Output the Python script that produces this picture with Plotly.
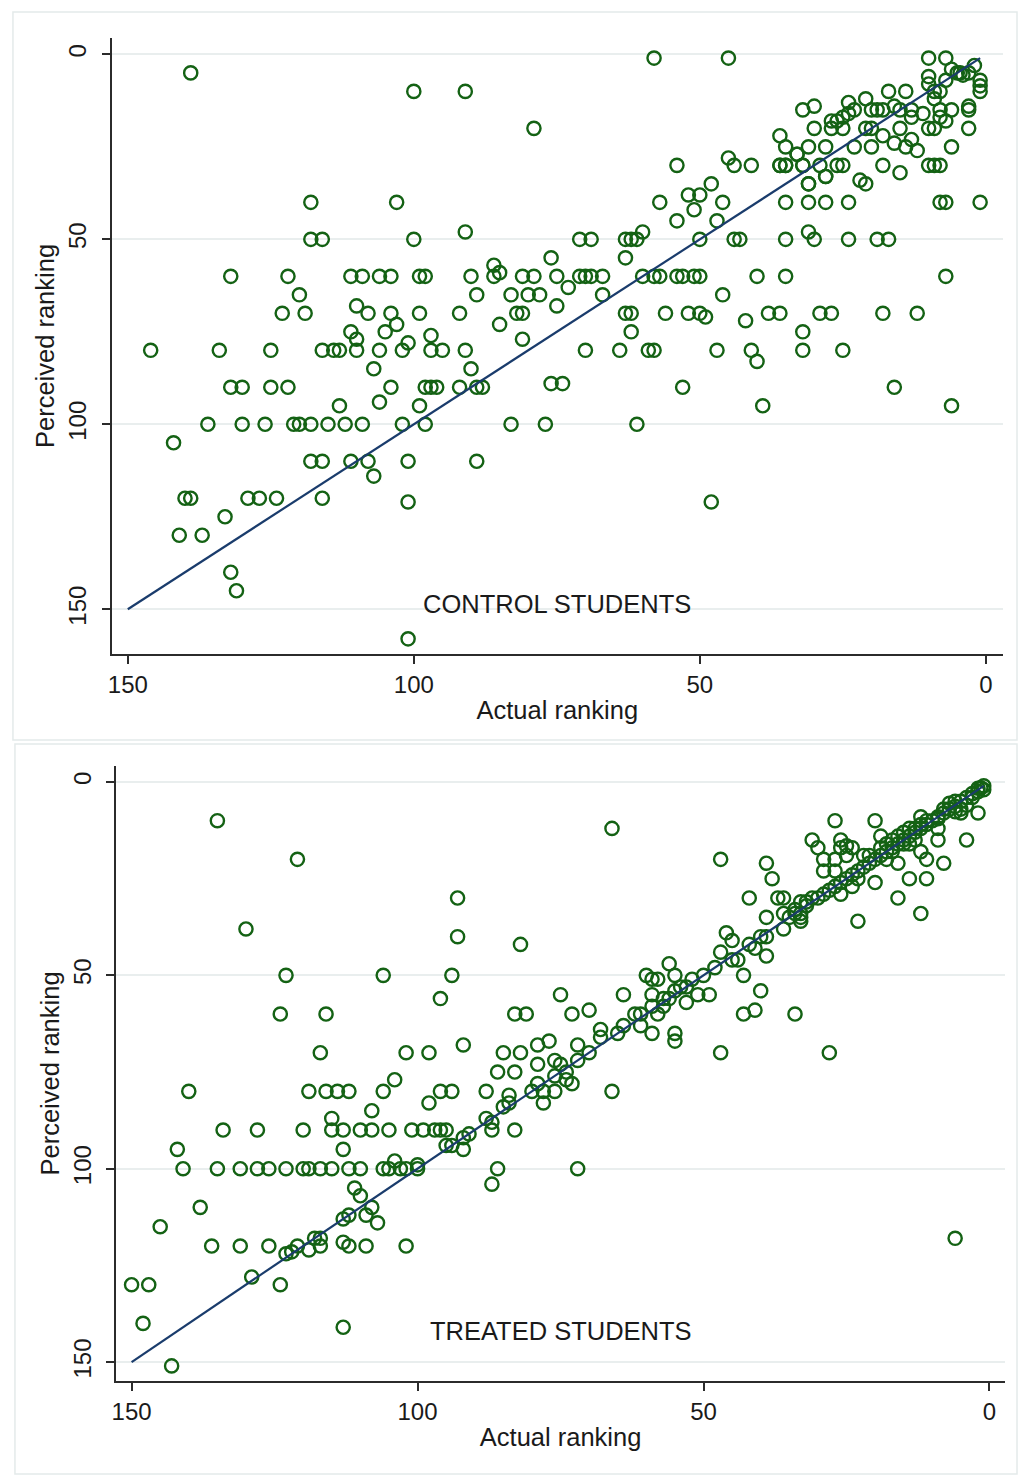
import plotly.graph_objects as go

# ---------------- data ----------------
# Control students: actual vs. perceived class ranking
control_actual = [
    139, 100, 91, 79, 118, 103, 118, 116, 100, 91, 76,
    132, 122, 111, 109, 106, 104, 99, 98, 90, 86, 81, 79, 75, 86, 85,
    120, 89, 83, 80, 78, 110, 75,
    123, 119, 108, 104, 99, 92, 82, 81,
    103, 85, 97, 111, 110, 105, 81, 101,
    146, 134, 125, 116, 114, 113, 110, 106, 102, 97, 95, 91,
    107, 90,
    132, 130, 125, 122, 104, 98, 97, 96, 92, 89, 88, 76, 74,
    113, 106, 99,
    136, 130, 126, 121, 120, 118, 115, 112, 109, 102, 98, 83, 77,
    142,
    118, 116, 111, 108, 101, 89,
    107,
    140, 139, 129, 127, 124, 116,
    101, 133, 141, 137, 132, 131, 101,
    73, 71, 70, 69, 67, 67, 71, 69, 63, 62, 61, 60, 63,
    60, 58, 57, 54, 53, 51, 50, 40, 35, 7,
    63, 62, 62, 56, 52, 50, 49, 46, 42, 38, 36, 32, 29, 27, 18, 12,
    70, 64, 59, 58, 47, 41, 32, 25,
    40, 53, 39, 16, 6, 61, 48,
    58, 45, 54, 45, 44, 41, 36, 35, 36, 35, 33, 32, 48, 52, 50, 51, 57, 46,
    47, 54, 35, 31, 28, 24, 31, 28, 35, 31, 30, 24, 19, 17, 44, 43, 50,
    10, 7, 6, 4, 3, 4.5, 2, 5, 1, 1, 1, 10, 10, 9, 8, 7, 9, 17, 14, 21, 24,
    20, 19, 18, 16, 15, 13, 11, 8, 6, 3, 3, 23, 32, 30,
    26, 25, 24, 27,
    25, 27, 21, 20, 15, 10, 9, 3, 30,
    13, 8, 7,
    31, 28, 23, 20, 14, 6, 18, 16, 13, 12, 33,
    32, 29, 26, 25, 36, 35, 18, 10, 9, 8, 15, 28, 31, 22, 21,
    8, 7, 1,
]
control_perceived = [
    5, 10, 10, 20, 40, 40, 50, 50, 50, 48, 55,
    60, 60, 60, 60, 60, 60, 60, 60, 60, 60, 60, 60, 60, 57, 59,
    65, 65, 65, 65, 65, 68, 68,
    70, 70, 70, 70, 70, 70, 70, 70,
    73, 73, 76, 75, 77, 75, 77, 78,
    80, 80, 80, 80, 80, 80, 80, 80, 80, 80, 80, 80,
    85, 85,
    90, 90, 90, 90, 90, 90, 90, 90, 90, 90, 90, 89, 89,
    95, 94, 95,
    100, 100, 100, 100, 100, 100, 100, 100, 100, 100, 100, 100, 100,
    105,
    110, 110, 110, 110, 110, 110,
    114,
    120, 120, 120, 120, 120, 120,
    121, 125, 130, 130, 140, 145, 158,
    63, 60, 60, 60, 60, 65, 50, 50, 50, 50, 50, 48, 55,
    60, 60, 60, 60, 60, 60, 60, 60, 60, 60,
    70, 70, 75, 70, 70, 70, 71, 65, 72, 70, 70, 75, 70, 70, 70, 70,
    80, 80, 80, 80, 80, 80, 80, 80,
    83, 90, 95, 90, 95, 100, 121,
    1, 1, 30, 28, 30, 30, 22, 25, 30, 30, 27, 30, 35, 38, 38, 42, 40, 40,
    45, 45, 40, 40, 40, 40, 35, 33, 50, 48, 50, 50, 50, 50, 50, 50, 50,
    1, 1, 4, 5.6, 5, 5, 3, 5, 7, 8.5, 10, 6, 8, 10, 10, 7, 12, 10, 10, 12, 13,
    15, 15, 15, 14, 15, 15, 16, 15, 15, 14, 15, 15, 15, 14,
    18, 17, 16, 18,
    20, 20, 20, 20, 20, 20, 20, 20, 20,
    17, 17, 18,
    25, 25, 25, 25, 25, 25, 22, 24, 23, 26, 27,
    30, 30, 30, 30, 30, 30, 30, 30, 30, 30, 32, 33, 35, 34, 35,
    40, 40, 40,
]

# Treated students: actual vs. perceived class ranking
treated_actual = [
    135, 121, 130, 93, 93, 82, 66, 47,
    123, 106, 94, 96, 75,
    124, 116, 83, 81,
    117, 102, 98, 85, 82, 92, 79, 77,
    79, 76, 86, 83, 104,
    140, 119, 116, 114, 112, 106, 96, 94, 88, 80, 78, 76, 66,
    98, 79, 78, 84, 85, 84, 74, 73,
    108, 115,
    134, 128, 120, 115, 113, 110, 108, 105, 101, 99, 97, 96, 95, 87, 83,
    88, 87,
    113, 142, 95, 94, 92, 92, 91,
    141, 135, 131, 128, 126, 123, 120, 119, 117, 115, 112, 110, 106, 105,
    103, 102, 100, 86, 72,
    104, 100, 87,
    138, 145, 111, 110, 108, 109, 107, 113, 112,
    118, 117, 119, 121, 122, 123, 117, 113, 112, 109, 102, 136, 131, 126,
    150, 147, 129, 124, 148, 113, 143,
    6,
    73, 70, 76, 74, 75, 72, 70, 72, 68, 68, 64, 65, 62, 61, 61, 59, 59, 58,
    57, 57, 56, 55, 54, 53, 53, 52, 51, 49, 50, 60, 59, 58, 56, 55, 48,
    47, 46, 45, 45, 44, 43, 47, 43, 41, 40, 55, 55, 64, 59,
    42, 41, 40, 39, 39, 39, 42, 39, 38, 37, 36, 36, 36, 34, 28,
    33, 32, 33, 34, 33, 33,
    27, 20, 31, 30, 29, 27, 29, 27, 26, 25, 24, 26, 25, 22, 19, 12, 9,
    2, 4, 9, 9, 8, 12, 11, 16, 14, 11, 16, 12, 23, 20,
    35, 34, 32, 31, 30, 29, 28, 27, 26, 25, 24, 23, 22, 21, 20, 19, 18, 17,
    16, 15, 14, 13, 12, 11, 10, 9, 8,
    21, 19, 18, 17, 16, 15, 14, 13, 12, 11, 18, 17, 15, 14, 13, 24, 26, 23,
    7, 6, 6, 5, 4, 3, 2, 1, 5, 1.5, 3, 4, 6, 5, 7, 8, 2, 1,
]
treated_perceived = [
    10, 20, 38, 30, 40, 42, 12, 20,
    50, 50, 50, 56, 55,
    60, 60, 60, 60,
    70, 70, 70, 70, 70, 68, 68, 67,
    73, 72, 75, 75, 77,
    80, 80, 80, 80, 80, 80, 80, 80, 80, 80, 80, 80, 80,
    83, 78, 83, 81, 84, 83, 77, 78,
    85, 87,
    90, 90, 90, 90, 90, 90, 90, 90, 90, 90, 90, 90, 90, 90, 90,
    87, 88,
    95, 95, 94, 94, 95, 92, 91,
    100, 100, 100, 100, 100, 100, 100, 100, 100, 100, 100, 100, 100, 100,
    100, 100, 100, 100, 100,
    98, 99, 104,
    110, 115, 105, 107, 110, 112, 114, 113, 112,
    118, 118, 121, 120, 121.5, 122, 120, 119, 120, 120, 120, 120, 120, 120,
    130, 130, 128, 130, 140, 141, 151,
    118,
    60, 59, 76, 75, 73, 72, 70, 68, 64, 66, 63, 65, 60, 60, 63, 65, 58, 60,
    58, 56, 56, 54, 53, 53, 57, 51, 55, 55, 50, 50, 51, 51, 47, 50, 48,
    44, 39, 41, 46, 46, 50, 70, 60, 59, 54, 65, 67, 55, 55,
    42, 43, 40, 40, 45, 35, 30, 21, 25, 30, 30, 34, 38, 60, 70,
    31, 32, 34, 33, 35, 36,
    10, 10, 15, 17, 20, 20, 23, 23, 17, 16.5, 17, 15, 19, 19, 14, 9, 9,
    8, 15, 12, 15, 21, 18, 20, 21, 25, 25, 30, 34, 36, 26,
    35, 34, 31, 30, 30, 29, 28, 27, 26, 25, 24, 23, 22, 21, 20, 19, 18, 17,
    16, 15, 14, 13, 12, 11, 10, 9.5, 8,
    19, 17, 16, 15, 14, 13, 12, 12, 11, 10, 20, 18, 16, 16, 15, 27, 29, 25,
    5.5, 6.3, 7.7, 5, 4, 3, 1.6, 2, 8, 1.5, 4, 6, 5, 7, 7, 7, 2.5, 1,
]

# 45-degree reference line (perceived = actual)
line_x = [1, 150]
line_y = [1, 150]

x_ticks = [150, 100, 50, 0]
y_ticks = [0, 50, 100, 150]
x_title = "Actual ranking"
y_title = "Perceived ranking"
panel_labels = ["CONTROL STUDENTS", "TREATED STUDENTS"]

# ---------------- styling ----------------
W, H = 1018, 1475
MARKER_COLOR = "rgb(20,98,20)"
LINE_COLOR = "rgb(26,60,108)"
AXIS_COLOR = "#2b2b2b"
GRID_COLOR = "#e9eeee"
TEXT_COLOR = "#1a1a1a"
FONT = "Liberation Sans, Arial, sans-serif"


def px_x(p):
    return p / W


def px_y(p):
    return 1 - p / H


fig = go.Figure()

for xs, ys, xa, ya in [
    (control_actual, control_perceived, "x", "y"),
    (treated_actual, treated_perceived, "x2", "y2"),
]:
    fig.add_trace(go.Scatter(
        x=xs, y=ys, mode="markers", xaxis=xa, yaxis=ya,
        marker=dict(symbol="circle-open", size=13.2, color=MARKER_COLOR,
                    line=dict(width=2.4, color=MARKER_COLOR)),
        showlegend=False, hoverinfo="x+y",
    ))
    fig.add_trace(go.Scatter(
        x=line_x, y=line_y, mode="lines", xaxis=xa, yaxis=ya,
        line=dict(color=LINE_COLOR, width=2.2),
        showlegend=False, hoverinfo="skip",
    ))

common_x = dict(
    tickvals=x_ticks, ticks="outside", ticklen=8, tickwidth=1.6,
    tickcolor=AXIS_COLOR, showline=True, linecolor=AXIS_COLOR, linewidth=1.8,
    showgrid=False, zeroline=False,
    tickfont=dict(size=24, color=TEXT_COLOR, family=FONT),
    title=dict(text=x_title, font=dict(size=25.5, color=TEXT_COLOR, family=FONT),
               standoff=4),
)
common_y = dict(
    tickvals=y_ticks, ticks="outside", ticklen=8, tickwidth=1.6,
    tickcolor=AXIS_COLOR, showline=True, linecolor=AXIS_COLOR, linewidth=1.8,
    showgrid=True, gridcolor=GRID_COLOR, gridwidth=1.6, zeroline=False,
    tickangle=-90, ticklabelstandoff=6,
    tickfont=dict(size=24, color=TEXT_COLOR, family=FONT),
    title=dict(text=y_title, font=dict(size=25.5, color=TEXT_COLOR, family=FONT),
               standoff=2),
)

fig.update_layout(
    width=W, height=H,
    margin=dict(l=0, r=0, t=0, b=0),
    paper_bgcolor="white", plot_bgcolor="white",
    font=dict(family=FONT, color=TEXT_COLOR),
    xaxis=dict(common_x, domain=[px_x(107.3), px_x(1002.7)],
               range=[152.8, -2.96], anchor="y"),
    yaxis=dict(common_y, domain=[px_y(654), px_y(38)],
               range=[162.1, -4.43], anchor="x"),
    xaxis2=dict(common_x, domain=[px_x(111.7), px_x(1005)],
                range=[152.7, -2.73], anchor="y2"),
    yaxis2=dict(common_y, domain=[px_y(1381), px_y(766)],
                range=[154.9, -4.14], anchor="x2"),
    annotations=[
        dict(text=panel_labels[0], x=75, y=148.6, xref="x", yref="y",
             showarrow=False, font=dict(size=25.5, color=TEXT_COLOR, family=FONT)),
        dict(text=panel_labels[1], x=75, y=142, xref="x2", yref="y2",
             showarrow=False, font=dict(size=25.5, color=TEXT_COLOR, family=FONT)),
    ],
    shapes=[
        dict(type="rect", xref="paper", yref="paper",
             x0=px_x(8), x1=px_x(1017), y0=px_y(740), y1=px_y(12),
             line=dict(color="#e4eaea", width=1.5), layer="below"),
        dict(type="rect", xref="paper", yref="paper",
             x0=px_x(10), x1=px_x(1017), y0=px_y(1474), y1=px_y(744),
             line=dict(color="#e4eaea", width=1.5), layer="below"),
    ],
)

fig.write_html("out.html")
